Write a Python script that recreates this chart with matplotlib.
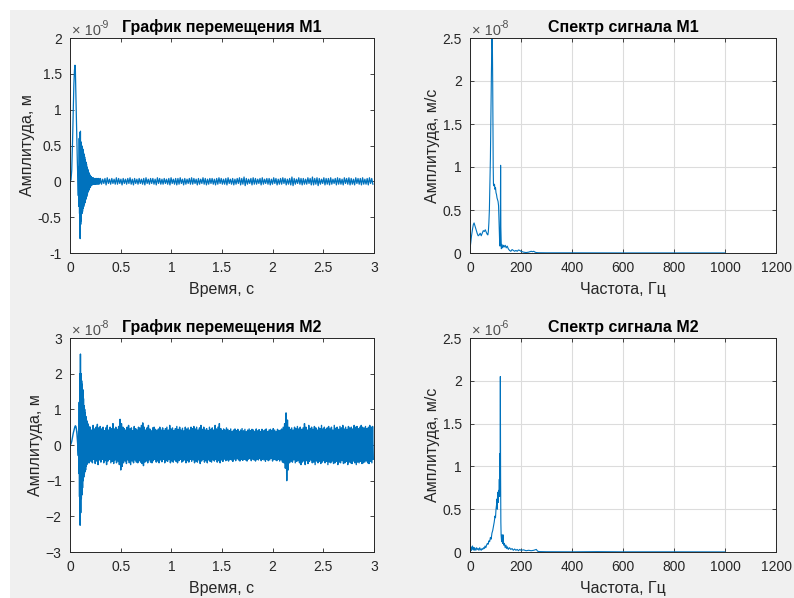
import numpy as np
import matplotlib
matplotlib.use('Agg')
import matplotlib.pyplot as plt
from matplotlib.patches import Rectangle

plt.rcParams['font.family'] = ['Liberation Sans', 'DejaVu Sans']

BLUE = '#0072BD'
DARK = '#262626'

# ---------------- M1 displacement (x1e-9 m) ----------------
# start of the record: hump and decaying transient
m1_head_t = [0.0, 0.01, 0.017, 0.025, 0.032, 0.038, 0.044, 0.049, 0.053, 0.057, 0.062, 0.067,
             0.072, 0.077, 0.082]
m1_head_v = [0.0, 0.02, 0.15, 0.55, 1.0, 1.35, 1.55, 1.62, 1.55, 1.3, 0.95, 0.6,
             0.3, 0.05, -0.2]
m1_osc_t0 = 0.085
m1_osc_dt = 0.003
m1_osc_v = [0.2, -0.35, 0.6, -0.45, 0.68, -0.8, 0.7, -0.6, 0.55, -0.55, 0.5, -0.45,
            0.48, -0.42, 0.45, -0.38, 0.4, -0.35, 0.38, -0.32, 0.34, -0.3, 0.3, -0.26,
            0.27, -0.24, 0.24, -0.21, 0.2, -0.18, 0.17, -0.15, 0.15, -0.13, 0.12, -0.11,
            0.1, -0.09, 0.08, -0.08, 0.07, -0.06, 0.06, -0.05, 0.05, -0.05, 0.04, -0.04,
            0.05, -0.04, 0.04, -0.03, 0.04, -0.04, 0.03, -0.04, 0.04, -0.03, 0.04, -0.04,
            0.04, -0.03, 0.03, -0.04, 0.04, -0.03, 0.04, -0.04, 0.03, -0.03]
# steady part: upper / lower envelope of the small noise band (0.3 s .. 3 s)
m1_noise_t0 = 0.3
m1_noise_dt = 0.01125
m1_noise_up = [0.04, 0.03, 0.04, 0.05, 0.03, 0.04, 0.03, 0.05, 0.04, 0.03,
               0.04, 0.03, 0.04, 0.05, 0.03, 0.04, 0.03, 0.04, 0.03, 0.04,
               0.05, 0.03, 0.04, 0.04, 0.03, 0.05, 0.04, 0.03, 0.04, 0.03,
               0.04, 0.05, 0.03, 0.04, 0.04, 0.05, 0.03, 0.04, 0.03, 0.04,
               0.05, 0.04, 0.03, 0.04, 0.03, 0.05, 0.04, 0.03, 0.04, 0.04,
               0.03, 0.04, 0.05, 0.04, 0.03, 0.04, 0.05, 0.03, 0.04, 0.03,
               0.04, 0.05, 0.04, 0.06, 0.04, 0.03, 0.04, 0.05, 0.04, 0.03,
               0.04, 0.05, 0.03, 0.04, 0.04, 0.03, 0.05, 0.04, 0.03, 0.04,
               0.05, 0.04, 0.03, 0.04, 0.06, 0.04, 0.03, 0.05, 0.04, 0.04,
               0.03, 0.05, 0.04, 0.06, 0.04, 0.05, 0.04, 0.03, 0.05, 0.04,
               0.04, 0.05, 0.03, 0.04, 0.05, 0.04, 0.03, 0.05, 0.04, 0.05,
               0.04, 0.03, 0.05, 0.04, 0.04, 0.05, 0.03, 0.04, 0.05, 0.04]
m1_noise_lo = [-0.04, -0.03, -0.05, -0.03, -0.04, -0.03, -0.04, -0.04, -0.03, -0.05,
               -0.03, -0.04, -0.03, -0.04, -0.05, -0.03, -0.04, -0.03, -0.04, -0.05,
               -0.03, -0.04, -0.03, -0.04, -0.05, -0.03, -0.04, -0.04, -0.03, -0.04,
               -0.05, -0.03, -0.04, -0.05, -0.04, -0.03, -0.05, -0.04, -0.03, -0.04,
               -0.04, -0.03, -0.05, -0.04, -0.03, -0.04, -0.05, -0.04, -0.03, -0.04,
               -0.05, -0.04, -0.03, -0.04, -0.04, -0.05, -0.03, -0.04, -0.05, -0.04,
               -0.03, -0.05, -0.04, -0.06, -0.04, -0.03, -0.05, -0.04, -0.04, -0.03,
               -0.05, -0.04, -0.03, -0.04, -0.05, -0.04, -0.03, -0.05, -0.04, -0.04,
               -0.03, -0.05, -0.04, -0.05, -0.06, -0.04, -0.03, -0.04, -0.05, -0.04,
               -0.04, -0.03, -0.05, -0.05, -0.04, -0.06, -0.04, -0.03, -0.05, -0.04,
               -0.05, -0.04, -0.03, -0.05, -0.04, -0.04, -0.05, -0.03, -0.04, -0.05,
               -0.04, -0.05, -0.03, -0.04, -0.05, -0.04, -0.04, -0.05, -0.03, -0.04]

# ---------------- M2 displacement (x1e-8 m) ----------------
m2_head_t = [0.0, 0.01, 0.017, 0.025, 0.032, 0.04, 0.047, 0.053, 0.058, 0.063, 0.068,
             0.072, 0.076, 0.08]
m2_head_v = [0.0, 0.03, 0.1, 0.22, 0.33, 0.42, 0.5, 0.54, 0.52, 0.45, 0.32,
             0.18, 0.02, -0.2]
m2_osc_t0 = 0.082
m2_osc_dt = 0.003
m2_osc_v = [-0.3, 0.4, -0.8, 1.2, -1.45, 2.0, -2.25, 2.55, -1.9, 2.0, -1.5, 1.8,
            -1.4, 1.7, -1.2, 1.55, -1.0, 1.3, -0.9, 1.1, -0.8, 1.0, -0.75, 0.9,
            -0.7, 0.8, -0.6, 0.7, -0.55, 0.65, -0.5, 0.6, -0.5, 0.55, -0.45, 0.5,
            -0.5, 0.5, -0.45]
# steady part: upper / lower envelope of the dense band (0.2 s .. 3 s)
m2_band_t0 = 0.2
m2_band_dt = 0.007
m2_band_up = [0.5, 0.42, 0.55, 0.45, 0.5, 0.58, 0.48, 0.52, 0.45, 0.5,
              0.4, 0.48, 0.55, 0.42, 0.5, 0.46, 0.6, 0.45, 0.5, 0.44,
              0.52, 0.72, 0.6, 0.5, 0.46, 0.42, 0.5, 0.55, 0.45, 0.48,
              0.4, 0.52, 0.46, 0.42, 0.5, 0.48, 0.55, 0.62, 0.5, 0.42,
              0.48, 0.55, 0.45, 0.4, 0.48, 0.5, 0.44, 0.4, 0.45, 0.5,
              0.42, 0.48, 0.4, 0.46, 0.5, 0.42, 0.55, 0.45, 0.48, 0.4,
              0.46, 0.52, 0.44, 0.5, 0.42, 0.47, 0.4, 0.5, 0.45, 0.48,
              0.42, 0.5, 0.46, 0.52, 0.45, 0.5, 0.42, 0.48, 0.55, 0.44,
              0.5, 0.42, 0.46, 0.4, 0.5, 0.44, 0.48, 0.42, 0.55, 0.45,
              0.5, 0.6, 0.46, 0.4, 0.45, 0.42, 0.48, 0.44, 0.4, 0.45,
              0.38, 0.42, 0.45, 0.4, 0.44, 0.38, 0.42, 0.46, 0.4, 0.44,
              0.38, 0.42, 0.45, 0.4, 0.44, 0.42, 0.38, 0.45, 0.4, 0.43,
              0.38, 0.44, 0.4, 0.42, 0.45, 0.38, 0.42, 0.44, 0.4, 0.46,
              0.42, 0.38, 0.44, 0.4, 0.42, 0.45, 0.5, 0.6, 0.9, 0.7,
              0.5, 0.44, 0.48, 0.42, 0.5, 0.46, 0.52, 0.45, 0.5, 0.44,
              0.48, 0.6, 0.5, 0.42, 0.55, 0.46, 0.5, 0.44, 0.52, 0.48,
              0.42, 0.5, 0.46, 0.55, 0.45, 0.5, 0.44, 0.48, 0.52, 0.45,
              0.5, 0.42, 0.55, 0.47, 0.5, 0.44, 0.52, 0.48, 0.55, 0.45,
              0.5, 0.44, 0.52, 0.48, 0.5, 0.45, 0.55, 0.5, 0.52, 0.46,
              0.5, 0.55, 0.5, 0.48, 0.52, 0.46, 0.5, 0.55, 0.5, 0.52]
m2_band_lo = [-0.45, -0.5, -0.4, -0.52, -0.45, -0.55, -0.42, -0.48, -0.4, -0.5,
              -0.44, -0.55, -0.45, -0.4, -0.5, -0.46, -0.52, -0.42, -0.5, -0.45,
              -0.55, -0.7, -0.6, -0.5, -0.45, -0.52, -0.42, -0.5, -0.55, -0.45,
              -0.5, -0.42, -0.48, -0.5, -0.44, -0.48, -0.52, -0.58, -0.48, -0.45,
              -0.5, -0.42, -0.48, -0.5, -0.44, -0.4, -0.48, -0.45, -0.5, -0.42,
              -0.47, -0.4, -0.5, -0.44, -0.46, -0.4, -0.5, -0.45, -0.48, -0.42,
              -0.46, -0.5, -0.44, -0.4, -0.48, -0.45, -0.42, -0.5, -0.44, -0.48,
              -0.4, -0.46, -0.42, -0.5, -0.45, -0.48, -0.42, -0.52, -0.45, -0.4,
              -0.48, -0.44, -0.5, -0.42, -0.46, -0.48, -0.42, -0.45, -0.4, -0.48,
              -0.44, -0.5, -0.42, -0.46, -0.4, -0.44, -0.42, -0.45, -0.4, -0.42,
              -0.46, -0.4, -0.44, -0.38, -0.42, -0.45, -0.4, -0.43, -0.4, -0.42,
              -0.45, -0.4, -0.38, -0.44, -0.4, -0.42, -0.45, -0.4, -0.42, -0.38,
              -0.44, -0.4, -0.42, -0.46, -0.4, -0.44, -0.42, -0.38, -0.45, -0.4,
              -0.42, -0.44, -0.4, -0.45, -0.42, -0.48, -0.5, -0.65, -1.0, -0.7,
              -0.5, -0.45, -0.48, -0.42, -0.5, -0.46, -0.44, -0.5, -0.55, -0.48,
              -0.45, -0.55, -0.44, -0.52, -0.46, -0.42, -0.5, -0.48, -0.55, -0.45,
              -0.5, -0.46, -0.52, -0.48, -0.44, -0.5, -0.46, -0.55, -0.48, -0.5,
              -0.45, -0.52, -0.5, -0.46, -0.55, -0.48, -0.5, -0.44, -0.52, -0.5,
              -0.46, -0.55, -0.48, -0.5, -0.52, -0.45, -0.5, -0.55, -0.48, -0.5,
              -0.46, -0.52, -0.5, -0.48, -0.45, -0.5, -0.52, -0.46, -0.5, -0.4]

# ---------------- M1 spectrum (x1e-8) ----------------
m1_freq = [0, 3, 6, 10, 13, 16, 19, 22, 25, 28, 32, 36, 40, 44, 48, 52, 56, 60, 64,
           67, 70, 72, 74, 76, 78, 80, 82, 84, 86, 87, 88, 89, 90, 91, 92, 94, 96,
           98, 100, 102, 104, 106, 108, 110, 112, 114, 116, 118, 119, 120, 121, 123,
           125, 128, 131, 134, 138, 142, 146, 150, 155, 160, 165, 170, 175, 180, 185,
           190, 195, 200, 210, 220, 230, 240, 245, 250, 255, 260, 270, 300, 400, 600,
           800, 1000]
m1_amp = [0.05, 0.12, 0.2, 0.28, 0.33, 0.35, 0.32, 0.29, 0.26, 0.23, 0.2, 0.21, 0.23, 0.2,
          0.23, 0.26, 0.25, 0.27, 0.24, 0.22, 0.21, 0.25, 0.35, 0.5, 0.8, 1.1, 1.6, 2.1,
          2.5, 2.45, 2.35, 2.0, 1.5, 1.0, 0.8, 0.78, 0.8, 0.74, 0.76, 0.7, 0.68, 0.64,
          0.62, 0.6, 0.55, 0.35, 0.15, 0.08, 0.3, 1.02, 0.3, 0.05, 0.1, 0.06, 0.09, 0.07,
          0.09, 0.06, 0.08, 0.05, 0.03, 0.02, 0.04, 0.03, 0.02, 0.03, 0.02, 0.035, 0.03,
          0.02, 0.01, 0.005, 0.01, 0.02, 0.015, 0.02, 0.01, 0.005, 0.003, 0.002, 0.002,
          0.001, 0.001, 0.001]

# ---------------- M2 spectrum (x1e-6) ----------------
m2_freq = [0, 2, 4, 6, 8, 10, 12, 14, 16, 18, 20, 23, 26, 29, 32, 35, 38, 41, 44, 47,
           50, 53, 56, 59, 62, 65, 68, 71, 74, 77, 80, 83, 86, 89, 92, 95, 98, 100,
           102, 104, 106, 107, 108, 109, 110, 111, 112, 113, 114, 115, 116, 117, 118,
           119, 120, 121, 122, 124, 126, 128, 130, 132, 135, 138, 141, 144, 147, 150,
           155, 160, 165, 170, 175, 180, 185, 190, 195, 200, 210, 220, 230, 240, 250,
           260, 265, 270, 300, 400, 500, 600, 800, 1000]
m2_amp = [0.08, 0.03, 0.06, 0.02, 0.05, 0.07, 0.03, 0.05, 0.02, 0.05, 0.04, 0.02, 0.05,
          0.03, 0.04, 0.02, 0.05, 0.03, 0.02, 0.04, 0.03, 0.05, 0.04, 0.07, 0.05, 0.08,
          0.1, 0.09, 0.13, 0.12, 0.17, 0.15, 0.22, 0.25, 0.3, 0.35, 0.42, 0.4, 0.5, 0.55,
          0.62, 0.5, 0.65, 0.6, 0.7, 0.58, 0.72, 0.65, 0.7, 0.85, 0.65, 1.15, 0.7, 2.05,
          0.9, 0.35, 0.2, 0.12, 0.2, 0.1, 0.2, 0.08, 0.1, 0.05, 0.08, 0.04, 0.06, 0.03,
          0.05, 0.03, 0.04, 0.02, 0.035, 0.02, 0.03, 0.015, 0.03, 0.02, 0.025, 0.015,
          0.02, 0.015, 0.02, 0.03, 0.01, 0.005, 0.003, 0.002, 0.004, 0.002, 0.002, 0.001]


def build_signal(head_t, head_v, osc_t0, osc_dt, osc_v, band_t0, band_dt, up, lo):
    # start of the record, then the alternating transient, then the band:
    # upper and lower envelope values are taken in turn
    osc_t = osc_t0 + osc_dt * np.arange(len(osc_v))
    band_v = np.ravel(np.column_stack([up, lo]))
    band_t = band_t0 + band_dt * np.arange(len(band_v))
    t = np.concatenate([head_t, osc_t, band_t])
    v = np.concatenate([head_v, osc_v, band_v])
    keep = t <= 3.0
    return t[keep], v[keep]


def style_axes(ax, title, xlabel, ylabel, exponent, grid):
    ax.set_facecolor('white')
    ax.set_title(title, fontsize=11.5, fontweight='bold', color='black', pad=4)
    ax.set_xlabel(xlabel, fontsize=11.5, color=DARK, labelpad=5)
    ax.set_ylabel(ylabel, fontsize=11.5, color=DARK, labelpad=2)
    ax.tick_params(direction='in', length=3, width=0.6, colors=DARK, labelsize=10,
                   top=True, right=True, pad=6)
    for s in ax.spines.values():
        s.set_color(DARK)
        s.set_linewidth(0.7)
    if grid:
        ax.grid(True, color='#dcdcdc', linewidth=0.8)
        ax.set_axisbelow(True)
    # MATLAB-style exponent above the top-left corner
    ax.annotate('× 10', xy=(0, 1), xycoords='axes fraction', xytext=(2, 3),
                textcoords='offset pixels', fontsize=10.5, color='#505050',
                ha='left', va='baseline', annotation_clip=False)
    ax.annotate(exponent, xy=(0, 1), xycoords='axes fraction', xytext=(30, 10),
                textcoords='offset pixels', fontsize=7.5, color='#505050',
                ha='left', va='baseline', annotation_clip=False)


fig = plt.figure(figsize=(7.94, 5.98), dpi=100)
fig.patch.set_facecolor('white')
fig.patches.append(Rectangle((10 / 794, 0), 1, 1 - 10 / 598, transform=fig.transFigure,
                             facecolor='#f0f0f0', edgecolor='none', zorder=-10))

ax1 = fig.add_axes([70 / 794, 1 - 253 / 598, 304 / 794, 215 / 598])
ax2 = fig.add_axes([470 / 794, 1 - 253 / 598, 306 / 794, 215 / 598])
ax3 = fig.add_axes([70 / 794, 1 - 552 / 598, 304 / 794, 214 / 598])
ax4 = fig.add_axes([470 / 794, 1 - 552 / 598, 306 / 794, 214 / 598])

t1, v1 = build_signal(m1_head_t, m1_head_v, m1_osc_t0, m1_osc_dt, m1_osc_v,
                      m1_noise_t0, m1_noise_dt, m1_noise_up, m1_noise_lo)
ax1.plot(t1, v1, color=BLUE, linewidth=0.9)
ax1.set_xlim(0, 3)
ax1.set_ylim(-1, 2)
ax1.set_xticks([0, 0.5, 1, 1.5, 2, 2.5, 3])
ax1.set_xticklabels(['0', '0.5', '1', '1.5', '2', '2.5', '3'])
ax1.set_yticks([-1, -0.5, 0, 0.5, 1, 1.5, 2])
ax1.set_yticklabels(['-1', '-0.5', '0', '0.5', '1', '1.5', '2'])
style_axes(ax1, 'График перемещения М1', 'Время, с', 'Амплитуда, м', '-9', False)

ax2.plot(m1_freq, m1_amp, color=BLUE, linewidth=0.8)
ax2.set_xlim(0, 1200)
ax2.set_ylim(0, 2.5)
ax2.set_xticks([0, 200, 400, 600, 800, 1000, 1200])
ax2.set_yticks([0, 0.5, 1, 1.5, 2, 2.5])
ax2.set_yticklabels(['0', '0.5', '1', '1.5', '2', '2.5'])
style_axes(ax2, 'Спектр сигнала М1', 'Частота, Гц', 'Амплитуда, м/с', '-8', True)

t3, v3 = build_signal(m2_head_t, m2_head_v, m2_osc_t0, m2_osc_dt, m2_osc_v,
                      m2_band_t0, m2_band_dt, m2_band_up, m2_band_lo)
ax3.plot(t3, v3, color=BLUE, linewidth=1.0)
ax3.set_xlim(0, 3)
ax3.set_ylim(-3, 3)
ax3.set_xticks([0, 0.5, 1, 1.5, 2, 2.5, 3])
ax3.set_xticklabels(['0', '0.5', '1', '1.5', '2', '2.5', '3'])
ax3.set_yticks([-3, -2, -1, 0, 1, 2, 3])
style_axes(ax3, 'График перемещения М2', 'Время, с', 'Амплитуда, м', '-8', False)

ax4.plot(m2_freq, m2_amp, color=BLUE, linewidth=0.8)
ax4.set_xlim(0, 1200)
ax4.set_ylim(0, 2.5)
ax4.set_xticks([0, 200, 400, 600, 800, 1000, 1200])
ax4.set_yticks([0, 0.5, 1, 1.5, 2, 2.5])
ax4.set_yticklabels(['0', '0.5', '1', '1.5', '2', '2.5'])
style_axes(ax4, 'Спектр сигнала М2', 'Частота, Гц', 'Амплитуда, м/с', '-6', True)

fig.savefig('out.png', dpi=100, facecolor=fig.get_facecolor())
